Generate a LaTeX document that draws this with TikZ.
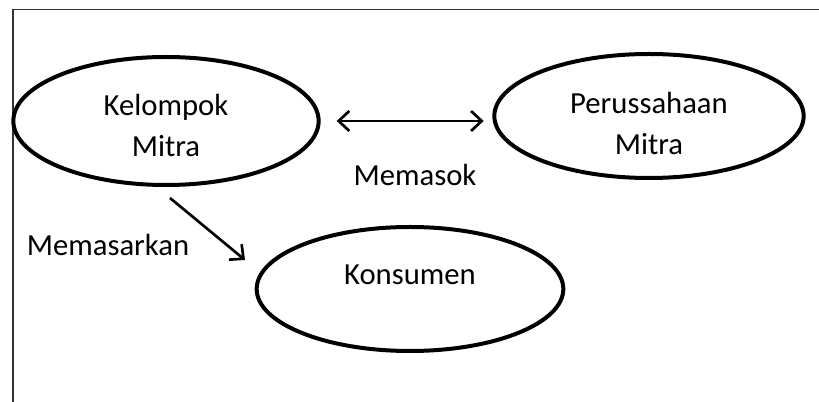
\documentclass[tikz,border=0pt]{standalone}
\usepackage{fontspec}
\setmainfont{Carlito}
\usetikzlibrary{positioning, arrows.meta, shapes.geometric}

\begin{document}
\begin{tikzpicture}[
        x=0.75pt, y=-0.75pt,
        font=\fontsize{23}{31}\selectfont,
        bubble/.style={draw, ellipse, line width=3pt, align=center, inner sep=0pt, text height=54pt},
        arrow/.style={>={Straight Barb[length=8pt, width=15pt]}, line width=2pt},
        frame/.style={draw=black!80, line width=1pt},
        lbl/.style={inner sep=0pt}
    ]
    \useasboundingbox (0,0) rectangle (819,402);

    % Frame (open at the bottom and right)
    \draw[frame] (13,402) -- (13,9.5) -- (819,9.5);

    % Parties
    \node[bubble, minimum width=229pt, minimum height=96pt] (Kelompok) at (166,121) {Kelompok\\Mitra};
    \node[bubble, minimum width=232pt, minimum height=93pt, text height=58pt] (Perusahaan) at (649,116) {Perussahaan\\Mitra};
    \node[bubble, minimum width=230pt, minimum height=93pt, text height=55pt] (Konsumen) at (410,289) {Konsumen\\ \mbox{}};

    % Relations
    \draw[arrow, <->] ([xshift=12pt]Kelompok.east) -- ([xshift=-6.5pt]Kelompok.east -| Perusahaan.west);
    \node[lbl] (Memasok) at (415,175) {Memasok};
    \draw[arrow, ->] ([xshift=3pt, yshift=-57.75pt]Kelompok.center) -- ([xshift=-123.75pt, yshift=21.75pt]Konsumen.center);
    \node[lbl] (Memasarkan) at (108,245) {Memasarkan};

\end{tikzpicture}
\end{document}
